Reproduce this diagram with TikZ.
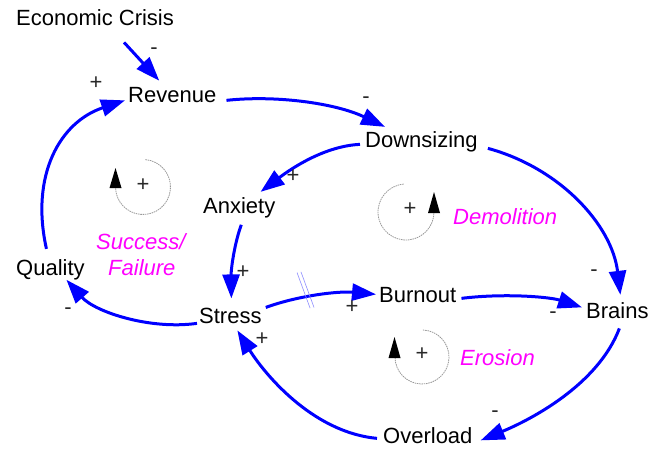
\documentclass[tikz,border=0pt]{standalone}
\usepackage{fontspec}
\setmainfont{Liberation Sans}
\usetikzlibrary{arrows.meta,decorations.markings}
\definecolor{linkblue}{RGB}{0,0,255}
\definecolor{delayblue}{RGB}{140,140,255}
\definecolor{signgray}{RGB}{40,40,40}
\definecolor{loopmagenta}{RGB}{255,0,255}

\begin{document}
\begin{tikzpicture}[x=1pt,y=1pt,
  var/.style={anchor=base west, inner sep=0pt, font=\fontsize{22}{26}\selectfont},
  looplabel/.style={anchor=base west, inner sep=0pt, text=loopmagenta, font=\fontsize{22}{26}\selectfont\itshape},
  pol/.style={anchor=mid, inner sep=0pt, text=signgray, font=\fontsize{22}{26}\selectfont},
  link/.style={draw=linkblue, line width=3pt, -{Triangle[length=24pt,width=17pt]}},
  loopring/.style={draw=black!40, line width=0.8pt, dash pattern=on 1.5pt off 0.8pt},
  looptip/.style={fill=black},
  delaybar/.style={draw=delayblue, line width=0.6pt, -}
]
\useasboundingbox (0,0) rectangle (660,-449);

% variables
\node[var] (ec)     at (16,-26)   {Economic Crisis};
\node[var] (rev)    at (128,-103) {Revenue};
\node[var] (down)   at (365,-147) {Downsizing};
\node[var] (anx)    at (203,-213) {Anxiety};
\node[var] (qual)   at (16,-275)  {Quality};
\node[var] (stress) at (199,-323) {Stress};
\node[var] (burn)   at (379,-302) {Burnout};
\node[var] (brains) at (586,-318) {Brains};
\node[var] (over)   at (383,-443) {Overload};

% loop names
\node[looplabel] (lsucc) at (96,-249)  {Success/};
\node[looplabel] (lfail) at (108,-275) {Failure};
\node[looplabel] (ldem)  at (453,-224) {Demolition};
\node[looplabel] (lero)  at (460,-365) {Erosion};

% causal links
\draw[link] ([shift={(29,-16)}]ec.south) -- ([shift={(-13,7)}]rev.north);
\draw[link] ([shift={(-4,10)}]qual.north) .. controls (30,-175) and (60,-122) .. ([xshift=-3]rev.mid west);
\draw[link] ([xshift=10]rev.mid east) .. controls (275,-95) and (335,-103) .. ([shift={(20,4)}]down.north west);
\draw[link] ([xshift=-5]down.mid west) .. controls (325,-146) and (292,-168) .. ([shift={(-15,5)}]anx.north east);
\draw[link] ([shift={(2,-7)}]anx.south) .. controls (234,-245) and (231,-270) .. ([shift={(1,9)}]stress.north);
\draw[link] ([shift={(-2,-3)}]stress.mid west) .. controls (150,-330) and (95,-312) .. ([xshift=16]qual.south);
\draw[link, postaction={decorate}, decoration={markings,
    mark=at position 0.37 with {
      \draw[delaybar] (-4.5,25.6) -- (2.4,-11.7);
      \draw[delaybar] (-0.5,25.6) -- (6.4,-11.7);}}]
  ([shift={(4,0)}]stress.north east) .. controls (300,-295) and (340,-291) .. ([shift={(-3,5)}]burn.mid west);
\draw[link] ([shift={(5,1)}]burn.mid east) .. controls (505,-293) and (550,-297) .. ([shift={(-4,8)}]brains.mid west);
\draw[link] ([shift={(10,-4)}]down.mid east) .. controls (560,-168) and (612,-225) .. ([shift={(3,7)}]brains.north);
\draw[link] ([shift={(2,-10)}]brains.south) .. controls (598,-385) and (530,-420) .. ([xshift=8]over.mid east);
\draw[link] ([shift={(-6,2)}]over.mid west) .. controls (310,-432) and (262,-370) .. ([shift={(7,-7)}]stress.south);

% link polarities
\node[pol] (p1)  at (154,-52)  {-};
\node[pol] (p2)  at (96,-87)   {+};
\node[pol] (p3)  at (366,-101) {-};
\node[pol] (p4)  at (293,-180) {+};
\node[pol] (p5)  at (243,-276) {+};
\node[pol] (p6)  at (68,-312)  {-};
\node[pol] (p7)  at (352,-311) {+};
\node[pol] (p8)  at (553,-316) {-};
\node[pol] (p9)  at (594,-274) {-};
\node[pol] (p10) at (262,-343) {+};
\node[pol] (p11) at (495,-415) {-};

% loop markers
\draw[loopring] (143,-187) ++(85:27.5) arc[start angle=85, end angle=-180, radius=27.5];
\fill[looptip] (109.5,-188) -- (115.5,-168) -- (121.5,-188) -- cycle;
\node[pol] (s1) at (143,-189) {+};

\draw[loopring] (406,-212) ++(95:28) arc[start angle=95, end angle=360, radius=28];
\fill[looptip] (428,-213) -- (434,-192) -- (440,-213) -- cycle;
\node[pol] (s2) at (410,-213) {+};

\draw[loopring] (422,-357) ++(88:27) arc[start angle=88, end angle=-180, radius=27];
\fill[looptip] (388.5,-358) -- (394.5,-337) -- (400.5,-358) -- cycle;
\node[pol] (s3) at (422,-358) {+};
\end{tikzpicture}
\end{document}
